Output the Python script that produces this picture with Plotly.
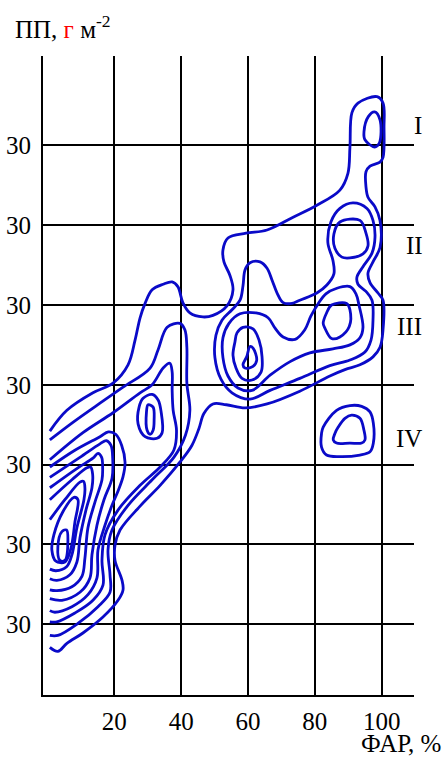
import plotly.graph_objects as go

# ---- axis values -------------------------------------------------------
x_ticks = [20, 40, 60, 80, 100]
x_tick_text = ["20", "40", "60", "80", "100"]
y_ticks = [1, 2, 3, 4, 5, 6, 7]
y_tick_text = ["30", "30", "30", "30", "30", "30", "30"]

# ---- isolines (x = ФАР %, y = ПП in grid steps) -------------------------
# open isolines that run out to the left edge of the field
iso_outer = [(0.7, 3.42), (5.8, 3.68), (13.6, 3.90), (19.6, 4.02), (24.1, 4.25), (26.2, 4.56),
             (27.7, 4.84), (29.2, 5.02), (31.3, 5.19), (34.6, 5.26), (37.3, 5.29), (39.0, 5.23),
             (40.5, 5.03), (42.6, 4.90), (46.5, 4.85), (49.5, 4.87), (53.7, 4.99), (55.5, 5.19),
             (54.6, 5.37), (52.8, 5.54), (52.5, 5.69), (54.0, 5.84), (59.4, 5.90), (65.7, 5.94),
             (73.5, 6.10), (80.6, 6.25), (87.5, 6.44), (89.9, 6.65), (90.5, 6.98), (91.1, 7.41),
             (92.9, 7.53), (98.6, 7.61), (100.4, 7.53), (100.7, 7.23), (100.4, 6.85), (99.5, 6.79),
             (96.5, 6.74), (95.3, 6.67), (95.3, 6.48), (95.9, 6.35), (98.0, 6.23), (99.5, 6.06),
             (99.5, 5.72), (97.4, 5.54), (95.9, 5.40), (96.5, 5.28), (98.9, 5.15), (100.4, 5.06),
             (100.4, 4.69), (99.5, 4.47), (97.4, 4.35), (93.5, 4.25), (89.0, 4.19), (84.5, 4.11),
             (75.5, 3.92), (65.7, 3.76), (59.1, 3.71), (53.5, 3.75), (49.5, 3.76), (46.8, 3.64),
             (45.3, 3.45), (43.2, 3.24), (39.6, 3.03), (33.7, 2.74), (27.7, 2.48), (21.7, 2.18),
             (20.2, 1.99), (20.2, 1.80), (22.3, 1.55), (22.6, 1.43), (21.1, 1.30), (16.6, 1.09),
             (10.6, 0.89), (5.8, 0.76), (3.1, 0.66), (0.7, 0.71)]
iso_left_2 = [(0.7, 3.31), (7.6, 3.53), (15.7, 3.77), (22.6, 3.97), (30.7, 4.21), (33.1, 4.44),
              (35.8, 4.72), (39.6, 4.77), (41.1, 4.69), (41.7, 4.47), (41.7, 4.02), (42.6, 3.68),
              (41.3, 3.37), (37.8, 3.09), (31.3, 2.81), (24.1, 2.49), (19.3, 2.18), (18.1, 1.93),
              (18.7, 1.62), (18.7, 1.40), (15.1, 1.22), (9.1, 1.01), (3.1, 0.86), (0.7, 0.86)]
iso_left_3 = [(0.7, 3.06), (10.6, 3.40), (19.6, 3.65), (27.7, 3.90), (31.3, 4.00), (34.6, 4.21),
              (36.6, 4.27), (37.3, 4.16), (37.3, 3.93), (37.6, 3.68), (38.6, 3.43), (37.8, 3.18),
              (33.7, 2.97), (27.7, 2.74), (21.1, 2.43), (17.2, 2.12), (16.3, 1.80), (16.6, 1.49),
              (13.6, 1.30), (8.2, 1.14), (2.8, 1.03), (0.7, 1.03)]
iso_left_4 = [(0.7, 2.97), (8.2, 3.18), (15.7, 3.35), (18.2, 3.41), (20.4, 3.38), (22.2, 3.24),
              (23.2, 3.03), (22.6, 2.85), (21.2, 2.68), (19.3, 2.49), (17.2, 2.24), (15.1, 1.93),
              (14.8, 1.58), (12.1, 1.37), (7.3, 1.22), (2.2, 1.15), (0.7, 1.17)]
iso_left_5 = [(0.7, 2.84), (9.7, 3.09), (15.7, 3.26), (17.6, 3.30), (19.0, 3.24), (19.5, 3.08),
              (19.3, 2.83), (16.9, 2.56), (14.8, 2.24), (13.3, 1.87), (12.7, 1.58), (9.7, 1.40),
              (4.3, 1.30), (0.7, 1.32)]
iso_left_6 = [(0.7, 2.71), (9.1, 2.96), (13.6, 3.08), (15.1, 3.14), (16.2, 3.09), (16.5, 2.95),
              (16.3, 2.81), (14.2, 2.53), (12.1, 2.21), (11.2, 1.83), (10.3, 1.60), (7.3, 1.47),
              (2.8, 1.42), (0.7, 1.43)]
iso_left_7 = [(0.7, 2.56), (7.3, 2.81), (11.8, 2.96), (12.9, 2.97), (13.5, 2.88), (13.3, 2.71),
              (11.5, 2.43), (9.7, 2.08), (8.8, 1.78), (6.7, 1.62), (2.8, 1.55), (0.7, 1.57)]
iso_left_8 = [(0.7, 2.31), (5.2, 2.56), (9.7, 2.78), (10.8, 2.79), (11.2, 2.70), (10.9, 2.56),
              (8.8, 2.21), (7.3, 1.87), (5.7, 1.72), (2.5, 1.67), (0.7, 1.69)]

# closed isolines
iso_left_9 = [(1.9, 2.12), (4.6, 2.41), (7.9, 2.59), (9.1, 2.56), (8.2, 2.28), (7.0, 1.95),
              (5.2, 1.78), (2.5, 1.79), (1.3, 1.93)]
iso_left_core = [(4.3, 2.16), (5.7, 2.18), (6.1, 2.05), (5.2, 1.80), (3.7, 1.80), (3.1, 1.97)]
iso_mid_2 = [(28.6, 3.83), (31.3, 3.88), (33.1, 3.81), (34.0, 3.66), (34.3, 3.40), (32.8, 3.33),
             (29.2, 3.35), (27.1, 3.51), (27.4, 3.72)]
iso_mid_core = [(30.1, 3.75), (31.6, 3.72), (31.9, 3.56), (31.6, 3.43), (30.7, 3.38), (29.8, 3.43),
                (29.6, 3.65)]
iso_right_2 = [(87.5, 6.21), (91.4, 6.28), (95.6, 6.21), (97.4, 6.06), (98.0, 5.85), (97.1, 5.65),
               (94.4, 5.48), (92.6, 5.35), (92.9, 5.26), (95.3, 5.17), (97.1, 5.06), (97.4, 4.81),
               (96.8, 4.56), (95.0, 4.41), (90.5, 4.31), (84.5, 4.24), (75.5, 4.08), (66.6, 3.93),
               (60.6, 3.82), (55.2, 3.90), (51.9, 4.07), (50.1, 4.34), (50.4, 4.62), (52.2, 4.81),
               (55.2, 4.94), (57.6, 5.06), (58.5, 5.24), (59.1, 5.44), (60.6, 5.53), (63.6, 5.54),
               (65.7, 5.46), (67.2, 5.31), (68.7, 5.15), (70.5, 5.03), (73.2, 5.02), (75.5, 5.06),
               (80.6, 5.15), (83.6, 5.25), (85.7, 5.39), (85.4, 5.56), (83.9, 5.78), (84.8, 6.04)]
iso_right_3 = [(86.6, 5.21), (90.5, 5.23), (92.3, 5.14), (93.2, 5.00), (94.4, 4.72), (93.5, 4.59),
               (90.5, 4.50), (85.4, 4.45), (78.5, 4.40), (72.6, 4.29), (66.6, 4.12), (61.2, 3.93),
               (57.0, 3.96), (54.0, 4.11), (52.5, 4.34), (52.5, 4.59), (54.3, 4.77), (57.6, 4.89),
               (62.4, 4.90), (66.0, 4.84), (68.1, 4.71), (70.5, 4.60), (74.1, 4.57), (77.0, 4.69),
               (78.8, 4.86), (80.9, 5.01), (83.3, 5.14)]
iso_60_ring = [(56.1, 4.54), (56.7, 4.65), (58.5, 4.72), (61.5, 4.70), (63.3, 4.56), (64.2, 4.35),
               (63.9, 4.16), (61.2, 4.06), (58.2, 4.08), (56.4, 4.21), (55.5, 4.37)]
iso_60_core = [(60.6, 4.48), (61.5, 4.46), (62.6, 4.31), (61.5, 4.23), (59.1, 4.21), (58.5, 4.25),
               (59.6, 4.35)]
iso_I_core = [(97.9, 7.42), (99.5, 7.32), (99.3, 7.03), (97.9, 6.98), (95.0, 7.07), (94.7, 7.17),
              (96.0, 7.36)]
iso_II_core = [(87.5, 6.04), (93.5, 6.06), (95.3, 5.90), (95.9, 5.74), (94.4, 5.64), (90.5, 5.59),
               (88.1, 5.60), (86.0, 5.71), (85.7, 5.89)]
iso_III_core = [(85.0, 5.00), (89.5, 5.02), (90.5, 4.94), (90.3, 4.73), (87.5, 4.60), (85.0, 4.58),
                (83.0, 4.71), (82.5, 4.77), (83.5, 4.90)]
iso_IV_outer = [(82.5, 3.47), (86.5, 3.68), (90.5, 3.74), (94.0, 3.73), (96.5, 3.66), (97.5, 3.52),
                (97.5, 3.27), (96.5, 3.16), (93.5, 3.12), (87.5, 3.10), (83.5, 3.12), (82.0, 3.22),
                (82.0, 3.39)]
iso_IV_core = [(87.0, 3.47), (89.0, 3.58), (91.0, 3.62), (93.5, 3.58), (94.7, 3.43), (95.0, 3.31),
               (94.0, 3.27), (90.5, 3.27), (86.5, 3.27), (85.5, 3.31), (86.0, 3.39)]

open_lines = [iso_outer, iso_left_2, iso_left_3, iso_left_4, iso_left_5, iso_left_6,
              iso_left_7, iso_left_8]
closed_lines = [iso_left_9, iso_left_core, iso_mid_2, iso_mid_core, iso_right_2, iso_right_3,
                iso_60_ring, iso_60_core, iso_I_core, iso_II_core, iso_III_core,
                iso_IV_outer, iso_IV_core]

# zone labels, placed in paper fractions to the right of the field
zone_names = ["I", "II", "III", "IV"]
zone_px = [1.011, 1.001, 0.988, 0.987]
zone_py = [0.891, 0.703, 0.576, 0.401]

BLUE = "#0a0ac8"
FONT = "Liberation Serif"

fig = go.Figure()


def add_iso(points, closed):
    pts = list(points) + ([points[0]] if closed else [])
    fig.add_trace(go.Scatter(
        x=[p[0] for p in pts], y=[p[1] for p in pts],
        mode="lines",
        line=dict(color=BLUE, width=2.8, shape="spline", smoothing=1.0),
        hoverinfo="skip", showlegend=False,
    ))


for line in open_lines:
    add_iso(line, False)
for line in closed_lines:
    add_iso(line, True)

for name, zx, zy in zip(zone_names, zone_px, zone_py):
    fig.add_annotation(x=zx, y=zy, xref="paper", yref="paper", text=name, showarrow=False,
                       font=dict(family=FONT, size=25, color="black"),
                       xanchor="center", yanchor="middle")

# axis titles
fig.add_annotation(xref="paper", yref="paper", x=-0.081, y=1.045,
                   text="ПП, <span style='color:red'>г</span> м<sup>-2</sup>",
                   showarrow=False, xanchor="left", yanchor="middle",
                   font=dict(family=FONT, size=25, color="black"))
fig.add_annotation(xref="paper", yref="paper", x=1.075, y=-0.0985,
                   text="ФАР, %", showarrow=False, xanchor="right", yanchor="bottom",
                   borderpad=0, font=dict(family=FONT, size=25, color="black"))

fig.update_xaxes(
    range=[-1.35, 109.67], tickvals=x_ticks, ticktext=x_tick_text,
    showgrid=True, gridcolor="black", gridwidth=2, zeroline=False,
    showline=True, linecolor="black", linewidth=2, automargin=False,
    ticks="outside", ticklen=0, ticklabelstandoff=3,
    tickfont=dict(family=FONT, size=25, color="black"),
)
fig.update_yaxes(
    range=[0.113, 8.12], tickvals=y_ticks, ticktext=y_tick_text,
    showgrid=True, gridcolor="black", gridwidth=2, zeroline=False,
    showline=True, linecolor="black", linewidth=2, automargin=False,
    ticks="outside", ticklen=0, ticklabelstandoff=5,
    tickfont=dict(family=FONT, size=25, color="black"),
)
fig.update_layout(
    width=445, height=758,
    margin=dict(l=43, r=31, t=56, b=63),
    paper_bgcolor="white", plot_bgcolor="white",
    showlegend=False,
)

fig.write_html("out.html")
